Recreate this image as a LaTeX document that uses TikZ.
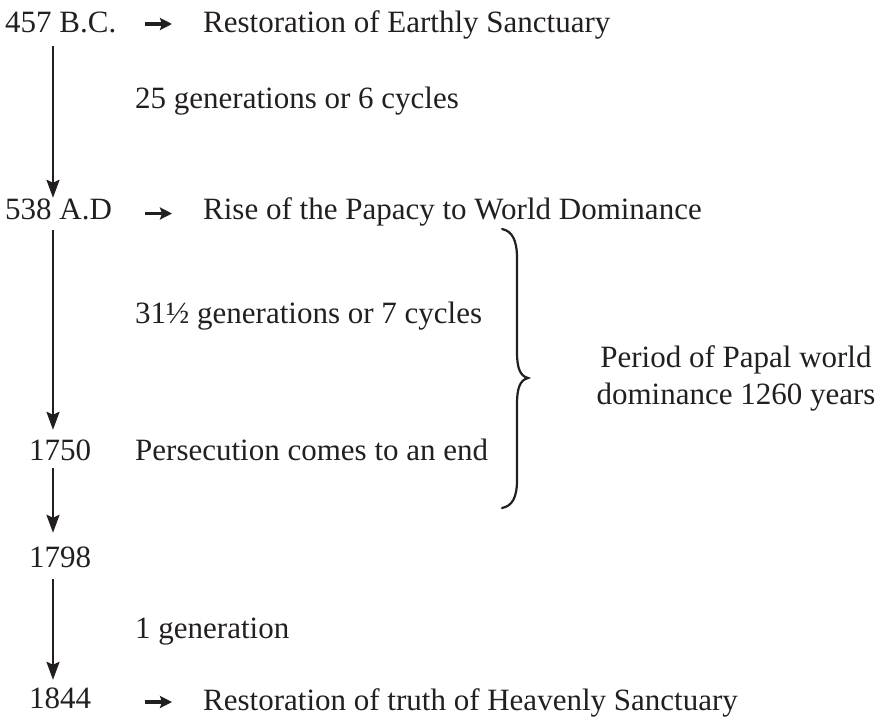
\documentclass[tikz,border=0pt]{standalone}
\usepackage{fontspec}
\setmainfont{Liberation Serif}
\usetikzlibrary{arrows.meta}
\definecolor{ink}{HTML}{231F20}
\begin{document}
\begin{tikzpicture}[x=1pt,y=1pt,
  txt/.style={inner sep=0pt, anchor=base west, text=ink, font=\fontsize{31}{37}\selectfont, text height=22pt, text depth=7pt},
  varr/.style={draw=ink, line width=2.5pt, -{Stealth[length=18pt,width=13pt,inset=3pt]}},
  harr/.style={draw=ink, line width=3.2pt, -{Stealth[length=12pt,width=12pt,inset=2pt]}},
  bracestyle/.style={draw=ink, line width=2.2pt, line cap=round}
]
\useasboundingbox (0,0) rectangle (882,-716);
% dates
\node[txt] (d457)  at (5,-32)   {457 B.C.};
\node[txt] (d538)  at (5,-219)  {538 A.D};
\node[txt] (d1750) at (29,-460) {1750};
\node[txt] (d1798) at (29,-567) {1798};
\node[txt] (d1844) at (29,-708) {1844};
% events
\node[txt] (e457)  at (203,-32)  {Restoration of Earthly Sanctuary};
\node[txt] (e538)  at (203,-219) {Rise of the Papacy to World Dominance};
\node[txt] (e1844) at (203,-710) {Restoration of truth of Heavenly Sanctuary};
% interval labels
\node[txt] (g1) at (135,-108) {25 generations or 6 cycles};
\node[txt] (g2) at (135,-323) {31½ generations or 7 cycles};
\node[txt] (p1750) at (135,-460) {Persecution comes to an end};
\node[txt] (g3) at (135,-638) {1 generation};
% period label
\node[inner sep=0pt, anchor=base, align=center, text=ink, font=\fontsize{31}{37}\selectfont] (period) at (736,-404) {Period of Papal world\\dominance 1260 years};
% vertical axis
\coordinate (ax) at (53,0);
\draw[varr] ([yshift=-7pt]ax |- d457.south) -- ([yshift=-1pt]ax |- d538.north);
\draw[varr] ([yshift=-4pt]ax |- d538.south) -- ([yshift=8pt]ax |- d1750.north);
\draw[varr] ([yshift=-1pt]ax |- d1750.south) -- ([yshift=12pt]ax |- d1798.north);
\draw[varr] ([yshift=-5pt]ax |- d1798.south) -- ([yshift=6pt]ax |- d1844.north);
% small horizontal arrows
\draw[harr] ([xshift=-58pt,yshift=0.5pt]e457.west) -- ([xshift=-31pt,yshift=0.5pt]e457.west);
\draw[harr] ([xshift=-58pt,yshift=-2pt]e538.west) -- ([xshift=-31pt,yshift=-2pt]e538.west);
\draw[harr] ([xshift=-58pt,yshift=0.5pt]e1844.west) -- ([xshift=-31pt,yshift=0.5pt]e1844.west);
% brace
\coordinate (bt) at (502,-229);
\coordinate (bm) at (528,-378);
\coordinate (bb) at (502,-508);
\draw[bracestyle] (bt) .. controls (512,-231) and (517,-240) .. (517,-258)
  -- (517,-352) .. controls (517,-368) and (520,-376) .. (bm)
  .. controls (520,-380) and (517,-388) .. (517,-404)
  -- (517,-480) .. controls (517,-498) and (512,-506) .. (bb);
\end{tikzpicture}
\end{document}
